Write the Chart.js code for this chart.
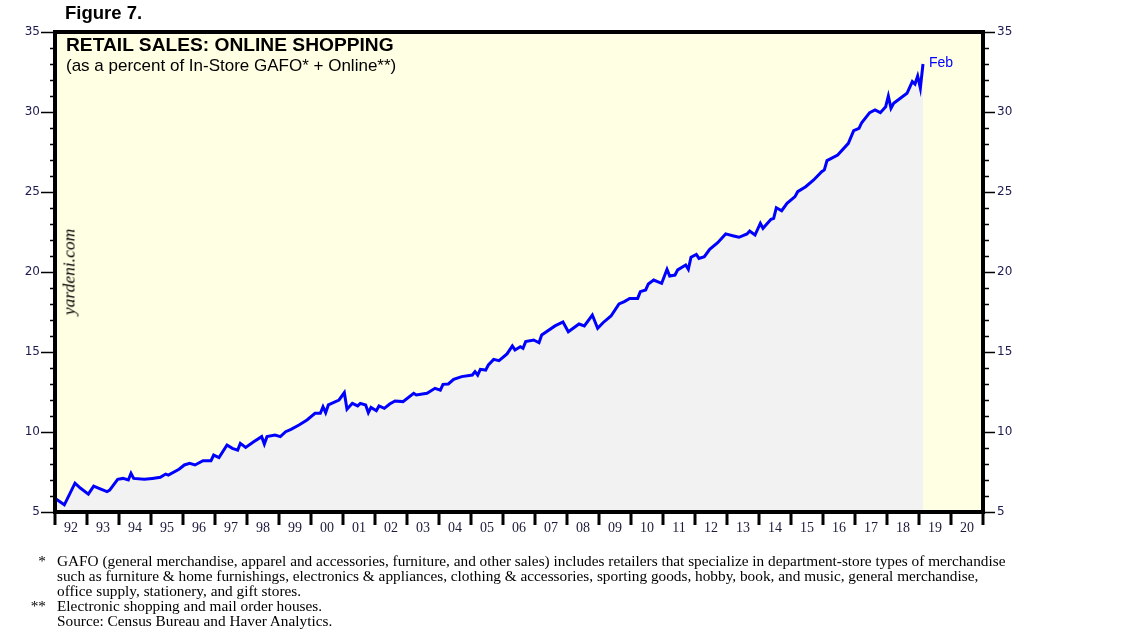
<!DOCTYPE html>
<html>
<head>
<meta charset="utf-8">
<script src="https://cdn.jsdelivr.net/npm/chart.js@4"></script>
<style>
  body { margin: 0; background: #fff; }
  #wrap { position: relative; width: 1138px; height: 634px; overflow: hidden; }
  #chart { position: absolute; left: 0; top: 0; }
  .txt { position: absolute; white-space: nowrap; }
  #fig { left: 65px; top: 2px; font: bold 18.5px "Liberation Sans", Arial, sans-serif; color: #000; }
  #ttl { left: 66px; top: 34px; font: bold 19.2px "Liberation Sans", Arial, sans-serif; color: #000; }
  #sub { left: 66px; top: 56px; font: 17px "Liberation Sans", Arial, sans-serif; color: #000; }
  #yard { left: 69px; top: 272px; font: italic 17.5px "Liberation Serif", "Times New Roman", serif; color: #000;
          transform: translate(-50%, -50%) rotate(-90deg); }
  #notes { left: 0; top: 553px; font: 15.3px "Liberation Serif", "Times New Roman", serif; line-height: 15px; color: #000; }
  #notes .m { display: inline-block; width: 46px; text-align: right; margin-right: 11px; }
  #notes .l { display: block; }
</style>
</head>
<body>
<div id="wrap">
  <canvas id="chart" width="1138" height="634"></canvas>
  <div class="txt" id="fig">Figure 7.</div>
  <div class="txt" id="ttl">RETAIL SALES: ONLINE SHOPPING</div>
  <div class="txt" id="sub">(as a percent of In-Store GAFO* + Online**)</div>
  <div class="txt" id="yard">yardeni.com</div>
  <div class="txt" id="notes">
    <span class="l"><span class="m">*</span>GAFO (general merchandise, apparel and accessories, furniture, and other sales) includes retailers that specialize in department-store types of merchandise</span>
    <span class="l"><span class="m"></span>such as furniture &amp; home furnishings, electronics &amp; appliances, clothing &amp; accessories, sporting goods, hobby, book, and music, general merchandise,</span>
    <span class="l"><span class="m"></span>office supply, stationery, and gift stores.</span>
    <span class="l"><span class="m">**</span>Electronic shopping and mail order houses.</span>
    <span class="l"><span class="m"></span>Source: Census Bureau and Haver Analytics.</span>
  </div>
</div>
<script>
// months (YYYY-MM)
const months = [
  '1992-01','1992-04','1992-08','1992-10','1993-01','1993-03','1993-05','1993-08','1993-09','1993-12',
  '1994-02','1994-04','1994-05','1994-06','1994-10','1995-01','1995-04','1995-06','1995-07','1995-11',
  '1996-01','1996-03','1996-05','1996-08','1996-11','1996-12','1997-02','1997-05','1997-07','1997-09',
  '1997-10','1997-12','1998-03','1998-06','1998-07','1998-08','1998-11','1999-01','1999-03','1999-05',
  '1999-08','1999-11','2000-02','2000-04','2000-05','2000-06','2000-07','2000-11','2001-01','2001-02',
  '2001-04','2001-06','2001-07','2001-09','2001-10','2001-11','2002-01','2002-02','2002-04','2002-06',
  '2002-08','2002-11','2003-03','2003-04','2003-08','2003-11','2004-01','2004-02','2004-04','2004-06',
  '2004-09','2005-01','2005-02','2005-03','2005-04','2005-06','2005-07','2005-09','2005-11','2006-02',
  '2006-04','2006-05','2006-07','2006-08','2006-09','2006-12','2007-02','2007-03','2007-08','2007-11',
  '2008-01','2008-05','2008-07','2008-10','2008-12','2009-02','2009-05','2009-08','2009-10','2009-12',
  '2010-03','2010-04','2010-06','2010-07','2010-09','2010-12','2011-02','2011-03','2011-05','2011-06',
  '2011-09','2011-10','2011-11','2012-01','2012-02','2012-04','2012-06','2012-09','2012-12','2013-03',
  '2013-05','2013-08','2013-09','2013-11','2014-01','2014-02','2014-05','2014-06','2014-07','2014-09',
  '2014-11','2015-02','2015-03','2015-06','2015-09','2015-12','2016-01','2016-02','2016-06','2016-10',
  '2016-12','2017-02','2017-03','2017-06','2017-08','2017-10','2017-12','2018-01','2018-02','2018-03',
  '2018-06','2018-08','2018-10','2018-11','2018-12','2019-01','2019-02'
];
// online share, % of in-store GAFO + online
const share = [
  5.8, 5.45, 6.8, 6.5, 6.12, 6.62, 6.48, 6.27, 6.37, 7.04,
  7.1, 7.0, 7.42, 7.1, 7.04, 7.1, 7.17, 7.37, 7.31, 7.67,
  7.94, 8.04, 7.94, 8.21, 8.21, 8.56, 8.4, 9.19, 8.98, 8.87,
  9.29, 9.04, 9.39, 9.71, 9.25, 9.71, 9.81, 9.71, 10.02, 10.17,
  10.44, 10.75, 11.17, 11.17, 11.58, 11.21, 11.69, 12.0, 12.46, 11.42,
  11.79, 11.63, 11.79, 11.69, 11.21, 11.54, 11.33, 11.63, 11.48, 11.75,
  11.94, 11.9, 12.42, 12.31, 12.42, 12.73, 12.62, 12.98, 13.0, 13.29,
  13.46, 13.56, 13.77, 13.56, 13.92, 13.87, 14.19, 14.54, 14.46, 14.88,
  15.38, 15.13, 15.33, 15.23, 15.65, 15.75, 15.58, 16.06, 16.63, 16.88,
  16.27, 16.75, 16.63, 17.31, 16.48, 16.83, 17.25, 18.0, 18.15, 18.35,
  18.35, 18.77, 18.88, 19.25, 19.5, 19.29, 20.17, 19.75, 19.81, 20.13,
  20.44, 20.17, 20.92, 21.1, 20.85, 20.96, 21.42, 21.83, 22.38, 22.25,
  22.17, 22.38, 22.56, 22.31, 23.04, 22.73, 23.29, 23.35, 24.02, 23.83,
  24.29, 24.71, 25.02, 25.33, 25.75, 26.27, 26.38, 26.96, 27.31, 28.04,
  28.83, 28.98, 29.33, 29.96, 30.13, 29.96, 30.33, 31.0, 30.23, 30.54,
  30.92, 31.17, 31.9, 31.75, 32.25, 31.5, 33.0
];
const yearLabels = ['92','93','94','95','96','97','98','99','00','01','02','03','04','05','06',
  '07','08','09','10','11','12','13','14','15','16','17','18','19','20'];
const firstYear = 1992;
const lastLabel = 'Feb';

// month string -> decimal year (mid month)
function toYear(s) {
  const p = s.split('-');
  return +p[0] + (+p[1] - 1) / 12 + 1 / 24;
}
const points = months.map((m, i) => ({ x: toYear(m), y: share[i] }));

const frame = {
  id: 'frame',
  beforeDraw(chart) {
    const a = chart.chartArea, c = chart.ctx;
    c.save();
    c.fillStyle = '#ffffe3';
    c.fillRect(a.left, a.top, a.right - a.left, a.bottom - a.top);
    c.restore();
  },
  afterDraw(chart) {
    const a = chart.chartArea, c = chart.ctx;
    const y = chart.scales.y, x = chart.scales.x;
    c.save();
    c.strokeStyle = '#000';
    // y tick marks, both sides
    c.lineWidth = 1.5;
    for (let v = 5; v <= 35; v++) {
      const py = Math.round(y.getPixelForValue(v)) + 0.5;
      const big = v % 5 === 0;
      c.beginPath();
      c.moveTo(a.left - (big ? 14 : 5), py); c.lineTo(a.left, py);
      c.moveTo(a.right, py); c.lineTo(a.right + (big ? 12 : 6), py);
      c.stroke();
    }
    // year tick marks
    c.lineWidth = 3;
    for (let k = 0; k <= yearLabels.length; k++) {
      const px = x.getPixelForValue(firstYear + k);
      c.beginPath();
      c.moveTo(px, a.bottom); c.lineTo(px, a.bottom + 13);
      c.stroke();
    }
    // frame
    c.lineWidth = 4;
    c.strokeRect(a.left, a.top, a.right - a.left, a.bottom - a.top);
    // end label
    const meta = chart.getDatasetMeta(0);
    const last = meta.data[meta.data.length - 1];
    c.fillStyle = '#0000ff';
    c.font = '14px "Liberation Sans", Arial, sans-serif';
    c.textBaseline = 'middle';
    c.fillText(lastLabel, last.x + 6, last.y - 1);
    c.restore();
  }
};

new Chart(document.getElementById('chart'), {
  type: 'line',
  data: {
    datasets: [{
      data: points,
      borderColor: '#0000ff',
      borderWidth: 3,
      backgroundColor: '#f2f2f2',
      fill: 'start',
      pointRadius: 0,
      tension: 0
    }]
  },
  options: {
    responsive: false,
    animation: false,
    layout: { padding: { top: 32 } },
    plugins: { legend: { display: false }, tooltip: { enabled: false } },
    scales: {
      x: {
        type: 'linear',
        min: firstYear,
        max: firstYear + yearLabels.length,
        grid: { display: false },
        border: { display: false },
        afterBuildTicks: s => { s.ticks = yearLabels.map((l, i) => ({ value: firstYear + i + 0.5 })); },
        afterFit: s => { s.height = 122; },
        ticks: {
          autoSkip: false,
          maxRotation: 0,
          padding: 0,
          color: '#1a1a3a',
          font: { family: '"Liberation Serif", "Times New Roman", serif', size: 14 },
          callback: v => yearLabels[Math.floor(v - firstYear)]
        }
      },
      y: {
        position: 'left',
        min: 5, max: 35,
        grid: { display: false },
        border: { display: false },
        afterFit: s => { s.width = 55; },
        ticks: {
          stepSize: 5, padding: 7, color: '#1a1a50',
          font: { family: '"DejaVu Sans", Verdana, sans-serif', size: 12 }
        }
      },
      y2: {
        position: 'right',
        min: 5, max: 35,
        grid: { display: false },
        border: { display: false },
        afterFit: s => { s.width = 155; },
        ticks: {
          stepSize: 5, padding: 6, color: '#1a1a50',
          font: { family: '"DejaVu Sans", Verdana, sans-serif', size: 12 }
        }
      }
    }
  },
  plugins: [frame]
});
</script>
</body>
</html>
